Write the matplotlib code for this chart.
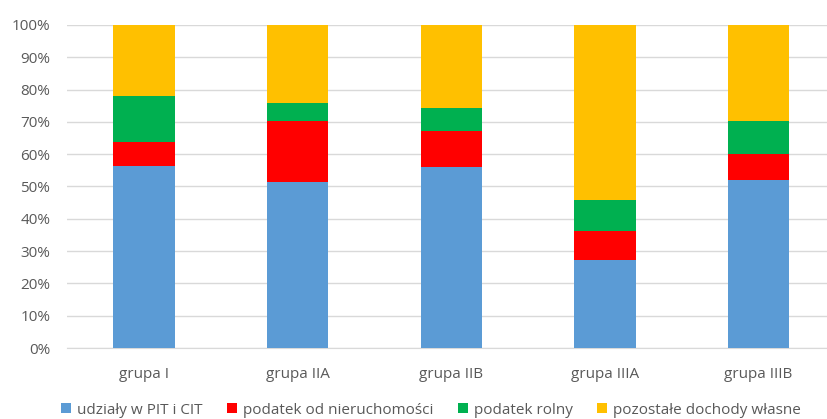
import numpy as np
import matplotlib.pyplot as plt

# values (percent shares)
groups = ['grupa I', 'grupa IIA', 'grupa IIB', 'grupa IIIA', 'grupa IIIB']
pit_cit = [56.4, 51.5, 56.1, 27.3, 52.0]
nieruchomosci = [7.3, 18.9, 11.0, 9.0, 8.1]
rolny = [14.4, 5.5, 7.1, 9.5, 10.3]
pozostale = [21.9, 24.1, 25.8, 54.2, 29.6]

series = [
    ('udziały w PIT i CIT', pit_cit, '#5b9bd5'),
    ('podatek od nieruchomości', nieruchomosci, '#ff0000'),
    ('podatek rolny', rolny, '#00b050'),
    ('pozostałe dochody własne', pozostale, '#ffc000'),
]

plt.rcParams['font.family'] = ['Open Sans', 'DejaVu Sans']

fig = plt.figure(figsize=(8.27, 4.19), dpi=100)
ax = fig.add_axes([67 / 827, 71 / 419, 768.5 / 827, 323 / 419])

x = np.arange(len(groups))
bottom = np.zeros(len(groups))
for label, vals, color in series:
    ax.bar(x, vals, width=0.40, bottom=bottom, color=color, label=label, zorder=3)
    bottom += np.array(vals)

ax.set_xlim(-0.5, len(groups) - 0.5)
ax.set_ylim(0, 100)
ax.set_yticks(np.arange(0, 101, 10))
ax.set_yticklabels([f'{v}%' for v in range(0, 101, 10)])
ax.set_xticks(x)
ax.set_xticklabels(groups)
ax.tick_params(axis='both', length=0, labelsize=11, colors='#595959')
ax.tick_params(axis='y', pad=12)
ax.tick_params(axis='x', pad=14)
ax.grid(axis='y', color='#d9d9d9', linewidth=1, zorder=0)
for s in ['top', 'right', 'left']:
    ax.spines[s].set_visible(False)
ax.spines['bottom'].set_color('#d9d9d9')

ax.legend(loc='center', bbox_to_anchor=(431 / 827, 9 / 419), bbox_transform=fig.transFigure,
          ncol=4, frameon=False, fontsize=11, handlelength=0.65, handleheight=0.65,
          handletextpad=0.4, columnspacing=1.6, labelcolor='#595959', borderpad=0)

fig.savefig('out.png', dpi=100)
